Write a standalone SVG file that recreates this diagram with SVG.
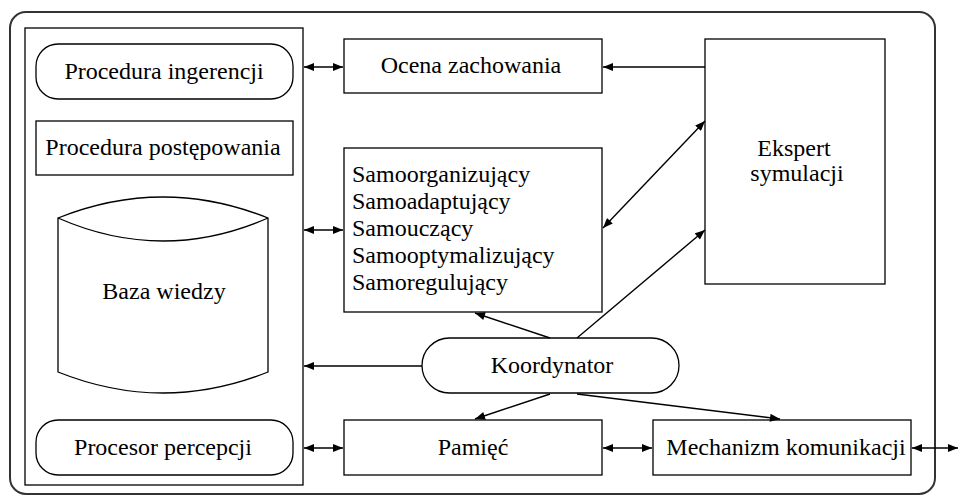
<svg xmlns="http://www.w3.org/2000/svg" width="959" height="498" viewBox="0 0 959 498">
<style>
.n{fill:#fff;stroke:#000;stroke-width:1.3}
.c{text-anchor:middle}
.l{stroke:#000;stroke-width:1.4;fill:none}
</style>
<defs>
<marker id="a" viewBox="0 0 10 8" refX="10" refY="4" markerWidth="11" markerHeight="8" markerUnits="userSpaceOnUse" orient="auto-start-reverse">
<path d="M0,0 L10,4 L0,8 z" fill="#000"/>
</marker>
</defs>
<rect width="959" height="498" fill="#fff"/>
<g font-family="'Liberation Serif', 'Times New Roman', serif" font-size="24" fill="#000">
<g id="outer"><rect x="10" y="12" width="925" height="482" rx="16" fill="none" stroke="#333" stroke-width="2"/></g>
<g id="agent"><rect class="n" x="25" y="28" width="278" height="457"/></g>
<g id="procedura-ingerencji"><rect class="n" x="36" y="44" width="257" height="55" rx="22"/><text class="c" x="164" y="79">Procedura ingerencji</text></g>
<g id="procedura-postepowania"><rect class="n" x="36" y="121" width="257" height="54"/><text class="c" x="163" y="155">Procedura postępowania</text></g>
<g id="baza-wiedzy"><path class="n" d="M58,218 Q163,176 268,218 L268,372 Q163,414 58,372 Z"/><path class="l" style="stroke-width:1.3" d="M58,218 Q163,264 268,218"/><text class="c" x="164" y="299">Baza wiedzy</text></g>
<g id="procesor-percepcji"><rect class="n" x="36" y="420" width="257" height="55" rx="22"/><text class="c" x="163" y="455">Procesor percepcji</text></g>
<g id="ocena-zachowania"><rect class="n" x="344" y="39" width="258" height="54"/><text class="c" x="471" y="73">Ocena zachowania</text></g>
<g id="samo"><rect class="n" x="344" y="148" width="258" height="164"/>
<text x="352" y="182">Samoorganizujący</text>
<text x="352" y="209">Samoadaptujący</text>
<text x="352" y="236">Samouczący</text>
<text x="352" y="263">Samooptymalizujący</text>
<text x="352" y="290">Samoregulujący</text></g>
<g id="ekspert"><rect class="n" x="705" y="39" width="180" height="245"/><text class="c" x="794" y="156">Ekspert</text><text class="c" x="797" y="181">symulacji</text></g>
<g id="koordynator"><rect class="n" x="422" y="338" width="257" height="55" rx="27.5"/><text class="c" x="552" y="373">Koordynator</text></g>
<g id="pamiec"><rect class="n" x="344" y="420" width="258" height="55"/><text class="c" x="473" y="455">Pamięć</text></g>
<g id="mechanizm"><rect class="n" x="653" y="420" width="258" height="55"/><text class="c" x="786" y="455">Mechanizm komunikacji</text></g>
</g>
<g id="connectors">
<path class="l" d="M304,67 L343,67" marker-start="url(#a)" marker-end="url(#a)"/>
<path class="l" d="M304,230 L343,230" marker-start="url(#a)" marker-end="url(#a)"/>
<path class="l" d="M304,448 L343,448" marker-start="url(#a)" marker-end="url(#a)"/>
<path class="l" d="M705,67 L603,67" marker-end="url(#a)"/>
<path class="l" d="M603,228 L705,121" marker-start="url(#a)" marker-end="url(#a)"/>
<path class="l" d="M577,338 L705,230" marker-end="url(#a)"/>
<path class="l" d="M550,338 L475,313" marker-end="url(#a)"/>
<path class="l" d="M422,366 L304,366" marker-end="url(#a)"/>
<path class="l" d="M550,394 L475,419" marker-end="url(#a)"/>
<path class="l" d="M577,394 L780,419" marker-end="url(#a)"/>
<path class="l" d="M603,448 L652,448" marker-start="url(#a)" marker-end="url(#a)"/>
<path class="l" d="M912,448 L958,448" marker-start="url(#a)" marker-end="url(#a)"/>
</g>
</svg>
